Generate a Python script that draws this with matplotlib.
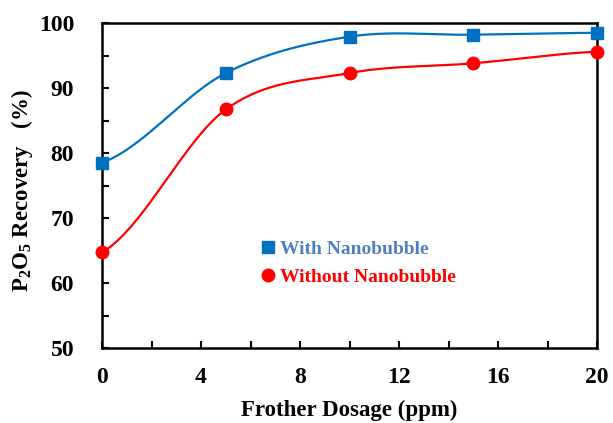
import numpy as np
import matplotlib.pyplot as plt
from matplotlib.lines import Line2D

# данные
dosage = [0, 5, 10, 15, 20]
with_nb = [78.5, 92.3, 97.9, 98.2, 98.5]
without_nb = [64.7, 86.7, 92.3, 93.8, 95.6]


def smooth(x, y, n=40):
    # сглаживание как в Excel (Catmull-Rom через точки)
    x = np.asarray(x, float)
    y = np.asarray(y, float)
    px = np.concatenate([[2 * x[0] - x[1]], x, [2 * x[-1] - x[-2]]])
    py = np.concatenate([[y[0]], y, [y[-1]]])
    xs, ys = [], []
    for i in range(1, len(px) - 2):
        t = np.linspace(0, 1, n)
        p0, p1, p2, p3 = px[i - 1], px[i], px[i + 1], px[i + 2]
        q0, q1, q2, q3 = py[i - 1], py[i], py[i + 1], py[i + 2]
        b1x = p1 + (p2 - p0) / 6
        b2x = p2 - (p3 - p1) / 6
        b1y = q1 + (q2 - q0) / 6
        b2y = q2 - (q3 - q1) / 6
        xs.append((1 - t) ** 3 * p1 + 3 * (1 - t) ** 2 * t * b1x + 3 * (1 - t) * t ** 2 * b2x + t ** 3 * p2)
        ys.append((1 - t) ** 3 * q1 + 3 * (1 - t) ** 2 * t * b1y + 3 * (1 - t) * t ** 2 * b2y + t ** 3 * q2)
    return np.concatenate(xs), np.concatenate(ys)


plt.rcParams['font.family'] = ['Liberation Serif', 'Noto Sans CJK SC']
plt.rcParams['font.weight'] = 'bold'
plt.rcParams['mathtext.fontset'] = 'custom'
plt.rcParams['mathtext.rm'] = 'Liberation Serif:bold'
plt.rcParams['mathtext.default'] = 'rm'

blue = '#0070C0'
red = '#FF0000'

fig = plt.figure(figsize=(6.13, 4.23), dpi=100)
ax = fig.add_axes([0.1664, 0.1773, 0.8076, 0.7683])

sx, sy = smooth(dosage, with_nb)
ax.plot(sx, sy, color=blue, lw=1.6, zorder=2)
sx, sy = smooth(dosage, without_nb)
ax.plot(sx, sy, color=red, lw=1.6, zorder=2)
ax.plot(dosage, with_nb, 's', color=blue, ms=9, zorder=3, clip_on=False)
ax.plot(dosage, without_nb, 'o', color=red, ms=9, zorder=3, clip_on=False)

ax.set_xlim(0, 20)
ax.set_ylim(50, 100)
ax.set_xticks([0, 4, 8, 12, 16, 20])
ax.set_xticks([2, 6, 10, 14, 18], minor=True)
ax.set_yticks([50, 60, 70, 80, 90, 100])
ax.set_yticks([55, 65, 75, 85, 95], minor=True)
ax.tick_params(which='both', direction='in', length=5, width=1.5,
               labelsize=17, top=False, right=False)
ax.tick_params(axis='x', pad=14)
ax.tick_params(axis='y', pad=20)
for lab in ax.get_xticklabels() + ax.get_yticklabels():
    lab.set_fontweight('bold')
for s in ax.spines.values():
    s.set_linewidth(1.8)

ax.set_xlabel('Frother Dosage (ppm)', fontsize=16.5, fontweight='bold', labelpad=8)
ax.set_ylabel('P$_{2}$O$_{5}$ Recovery   (%)', fontsize=16.5, fontweight='bold')
ax.yaxis.set_label_coords(-0.135, 0.485)

handles = [Line2D([], [], ls='none', marker='s', color=blue, ms=9),
           Line2D([], [], ls='none', marker='o', color=red, ms=9)]
ax.legend(handles, ['With Nanobubble', 'Without Nanobubble'],
          loc='upper left', bbox_to_anchor=(0.288, 0.385), frameon=False,
          handlelength=0.6, handletextpad=0.3, labelspacing=0.55,
          labelcolor=['#4F81BD', red], prop={'size': 14, 'weight': 'bold'})

plt.savefig('out.png', dpi=100)
